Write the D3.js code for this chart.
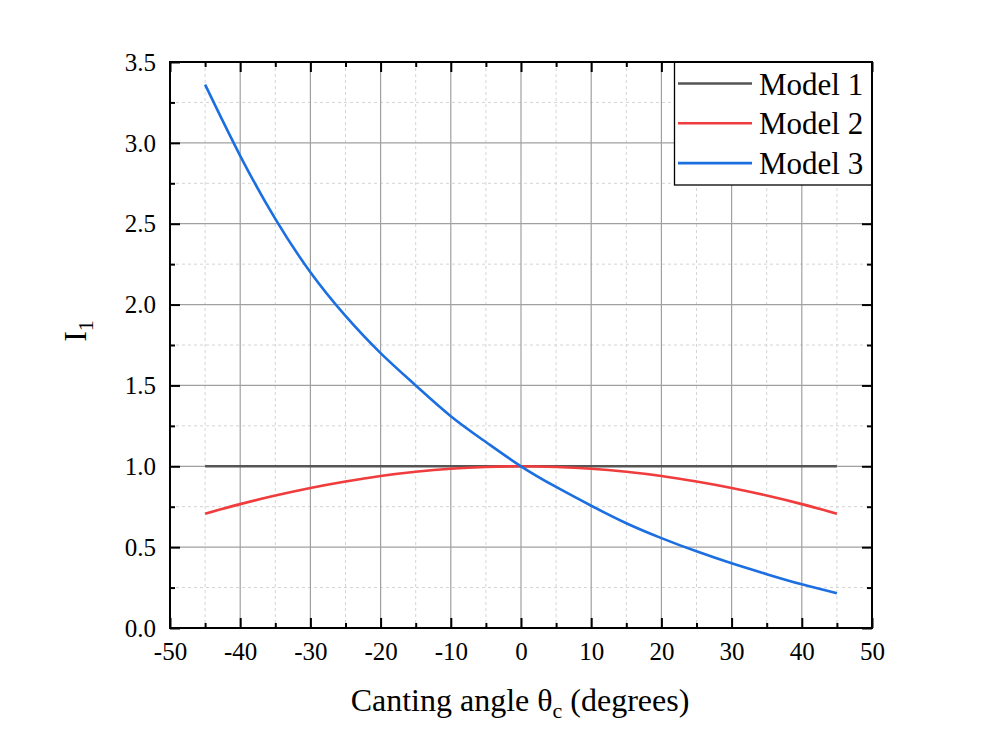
<!DOCTYPE html>
<html>
<head>
<meta charset="utf-8">
<script src="https://cdn.jsdelivr.net/npm/d3@7"></script>
<style>
  html, body { margin: 0; padding: 0; background: #fff; }
  svg { display: block; }
  text { font-family: "Liberation Serif", "Times New Roman", serif; fill: #000; }
</style>
</head>
<body>
<svg id="chart" width="1000" height="744"></svg>
<script>
// ---- data ----
const angles = [-45, -40, -35, -30, -25, -20, -15, -10, -5, 0, 5, 10, 15, 20, 25, 30, 35, 40, 45];
const model1 = [1, 1, 1, 1, 1, 1, 1, 1, 1, 1, 1, 1, 1, 1, 1, 1, 1, 1, 1];
const model2 = [0.707, 0.766, 0.819, 0.866, 0.906, 0.940, 0.966, 0.985, 0.996, 1.000,
                0.996, 0.985, 0.966, 0.940, 0.906, 0.866, 0.819, 0.766, 0.707];
const model3 = [3.36, 2.92, 2.53, 2.20, 1.93, 1.70, 1.50, 1.31, 1.15, 1.00,
                0.872, 0.756, 0.648, 0.556, 0.474, 0.400, 0.333, 0.270, 0.215];
const seriesNames = ["Model 1", "Model 2", "Model 3"];
const seriesColors = ["#555555", "#f03c3c", "#1b6fe0"];
const xTicks = [-50, -40, -30, -20, -10, 0, 10, 20, 30, 40, 50];
const xMinor = [-45, -35, -25, -15, -5, 5, 15, 25, 35, 45];
const yTicks = [0, 0.5, 1.0, 1.5, 2.0, 2.5, 3.0, 3.5];
const yMinor = [0.25, 0.75, 1.25, 1.75, 2.25, 2.75, 3.25];

// ---- layout ----
const L = 170, R = 872, T = 62, B = 628;
const svg = d3.select("#chart");
const x = d3.scaleLinear().domain([-50, 50]).range([L, R]);
const y = d3.scaleLinear().domain([0, 3.5]).range([B, T]);

// grid
const grid = svg.append("g");
grid.selectAll(".vminor").data(xMinor).join("line")
  .attr("x1", d => x(d)).attr("x2", d => x(d)).attr("y1", T).attr("y2", B)
  .attr("stroke", "#d4d4d4").attr("stroke-width", 1).attr("stroke-dasharray", "3,3");
grid.selectAll(".hminor").data(yMinor).join("line")
  .attr("y1", d => y(d)).attr("y2", d => y(d)).attr("x1", L).attr("x2", R)
  .attr("stroke", "#d4d4d4").attr("stroke-width", 1).attr("stroke-dasharray", "3,3");
grid.selectAll(".vmajor").data(xTicks.slice(1, -1)).join("line")
  .attr("x1", d => x(d)).attr("x2", d => x(d)).attr("y1", T).attr("y2", B)
  .attr("stroke", "#a0a0a0").attr("stroke-width", 1.2);
grid.selectAll(".hmajor").data(yTicks.slice(1, -1)).join("line")
  .attr("y1", d => y(d)).attr("y2", d => y(d)).attr("x1", L).attr("x2", R)
  .attr("stroke", "#a0a0a0").attr("stroke-width", 1.2);

// lines
const allSeries = [model1, model2, model3];
const line = d3.line().x((d, i) => x(angles[i])).y(d => y(d)).curve(d3.curveNatural);
allSeries.forEach((s, k) => {
  svg.append("path").datum(s).attr("d", line)
    .attr("fill", "none").attr("stroke", seriesColors[k]).attr("stroke-width", 2.6);
});

// axes (ticks inward on all four sides)
function axisG(axis, tx, ty) {
  const g = svg.append("g").attr("transform", `translate(${tx},${ty})`).call(axis);
  g.select(".domain").remove();
  g.selectAll(".tick line").attr("stroke", "#000").attr("stroke-width", 2);
  return g;
}
const hyph = f => (d => f(d).replace("\u2212", "-"));
// bottom
const bx = axisG(d3.axisBottom(x).tickValues(xTicks).tickSizeInner(-10).tickSizeOuter(0).tickPadding(0).tickFormat(hyph(d3.format("d"))), 0, B);
bx.attr("font-family", null).attr("font-size", null);
bx.selectAll(".tick text").attr("y", 32).attr("dy", 0).style("font-size", "25px");
axisG(d3.axisBottom(x).tickValues(xMinor).tickSizeInner(-5).tickSizeOuter(0).tickFormat(""), 0, B);
// top
axisG(d3.axisTop(x).tickValues(xTicks).tickSizeInner(-10).tickSizeOuter(0).tickFormat(""), 0, T);
axisG(d3.axisTop(x).tickValues(xMinor).tickSizeInner(-5).tickSizeOuter(0).tickFormat(""), 0, T);
// left
const ly = axisG(d3.axisLeft(y).tickValues(yTicks).tickSizeInner(-10).tickSizeOuter(0).tickPadding(0).tickFormat(d3.format(".1f")), L, 0);
ly.attr("font-family", null).attr("font-size", null);
ly.selectAll(".tick text").attr("x", -14).attr("dy", "0.33em").style("font-size", "25px");
axisG(d3.axisLeft(y).tickValues(yMinor).tickSizeInner(-5).tickSizeOuter(0).tickFormat(""), L, 0);
// right
axisG(d3.axisRight(y).tickValues(yTicks).tickSizeInner(-10).tickSizeOuter(0).tickFormat(""), R, 0);
axisG(d3.axisRight(y).tickValues(yMinor).tickSizeInner(-5).tickSizeOuter(0).tickFormat(""), R, 0);

// frame
svg.append("rect").attr("x", L).attr("y", T).attr("width", R - L).attr("height", B - T)
  .attr("fill", "none").attr("stroke", "#000").attr("stroke-width", 2);

// legend
const lg = svg.append("g");
lg.append("rect").attr("x", 674.5).attr("y", T).attr("width", R - 674.5).attr("height", 123)
  .attr("fill", "#fff").attr("stroke", "#000").attr("stroke-width", 1.3);
seriesNames.forEach((n, k) => {
  const cy = 83.5 + k * 39.8;
  lg.append("line").attr("x1", 678).attr("x2", 752).attr("y1", cy).attr("y2", cy)
    .attr("stroke", seriesColors[k]).attr("stroke-width", 2.6);
  lg.append("text").attr("x", 759).attr("y", cy + 11).style("font-size", "31px").text(n);
});
// re-draw right/top frame edges over legend
svg.append("line").attr("x1", R).attr("x2", R).attr("y1", T).attr("y2", B)
  .attr("stroke", "#000").attr("stroke-width", 2);
svg.append("line").attr("x1", L).attr("x2", R).attr("y1", T).attr("y2", T)
  .attr("stroke", "#000").attr("stroke-width", 2);

// axis titles
const xt = svg.append("text").attr("x", 520).attr("y", 711).attr("text-anchor", "middle")
  .style("font-size", "32px");
xt.append("tspan").text("Canting angle θ");
xt.append("tspan").attr("dy", 7).style("font-size", "22px").text("c");
xt.append("tspan").attr("dy", -7).text(" (degrees)");

const yt = svg.append("text").attr("transform", "translate(86,331) rotate(-90)")
  .attr("text-anchor", "middle").style("font-size", "32px");
yt.append("tspan").text("I");
yt.append("tspan").attr("dy", 7).style("font-size", "22px").text("1");
</script>
</body>
</html>
